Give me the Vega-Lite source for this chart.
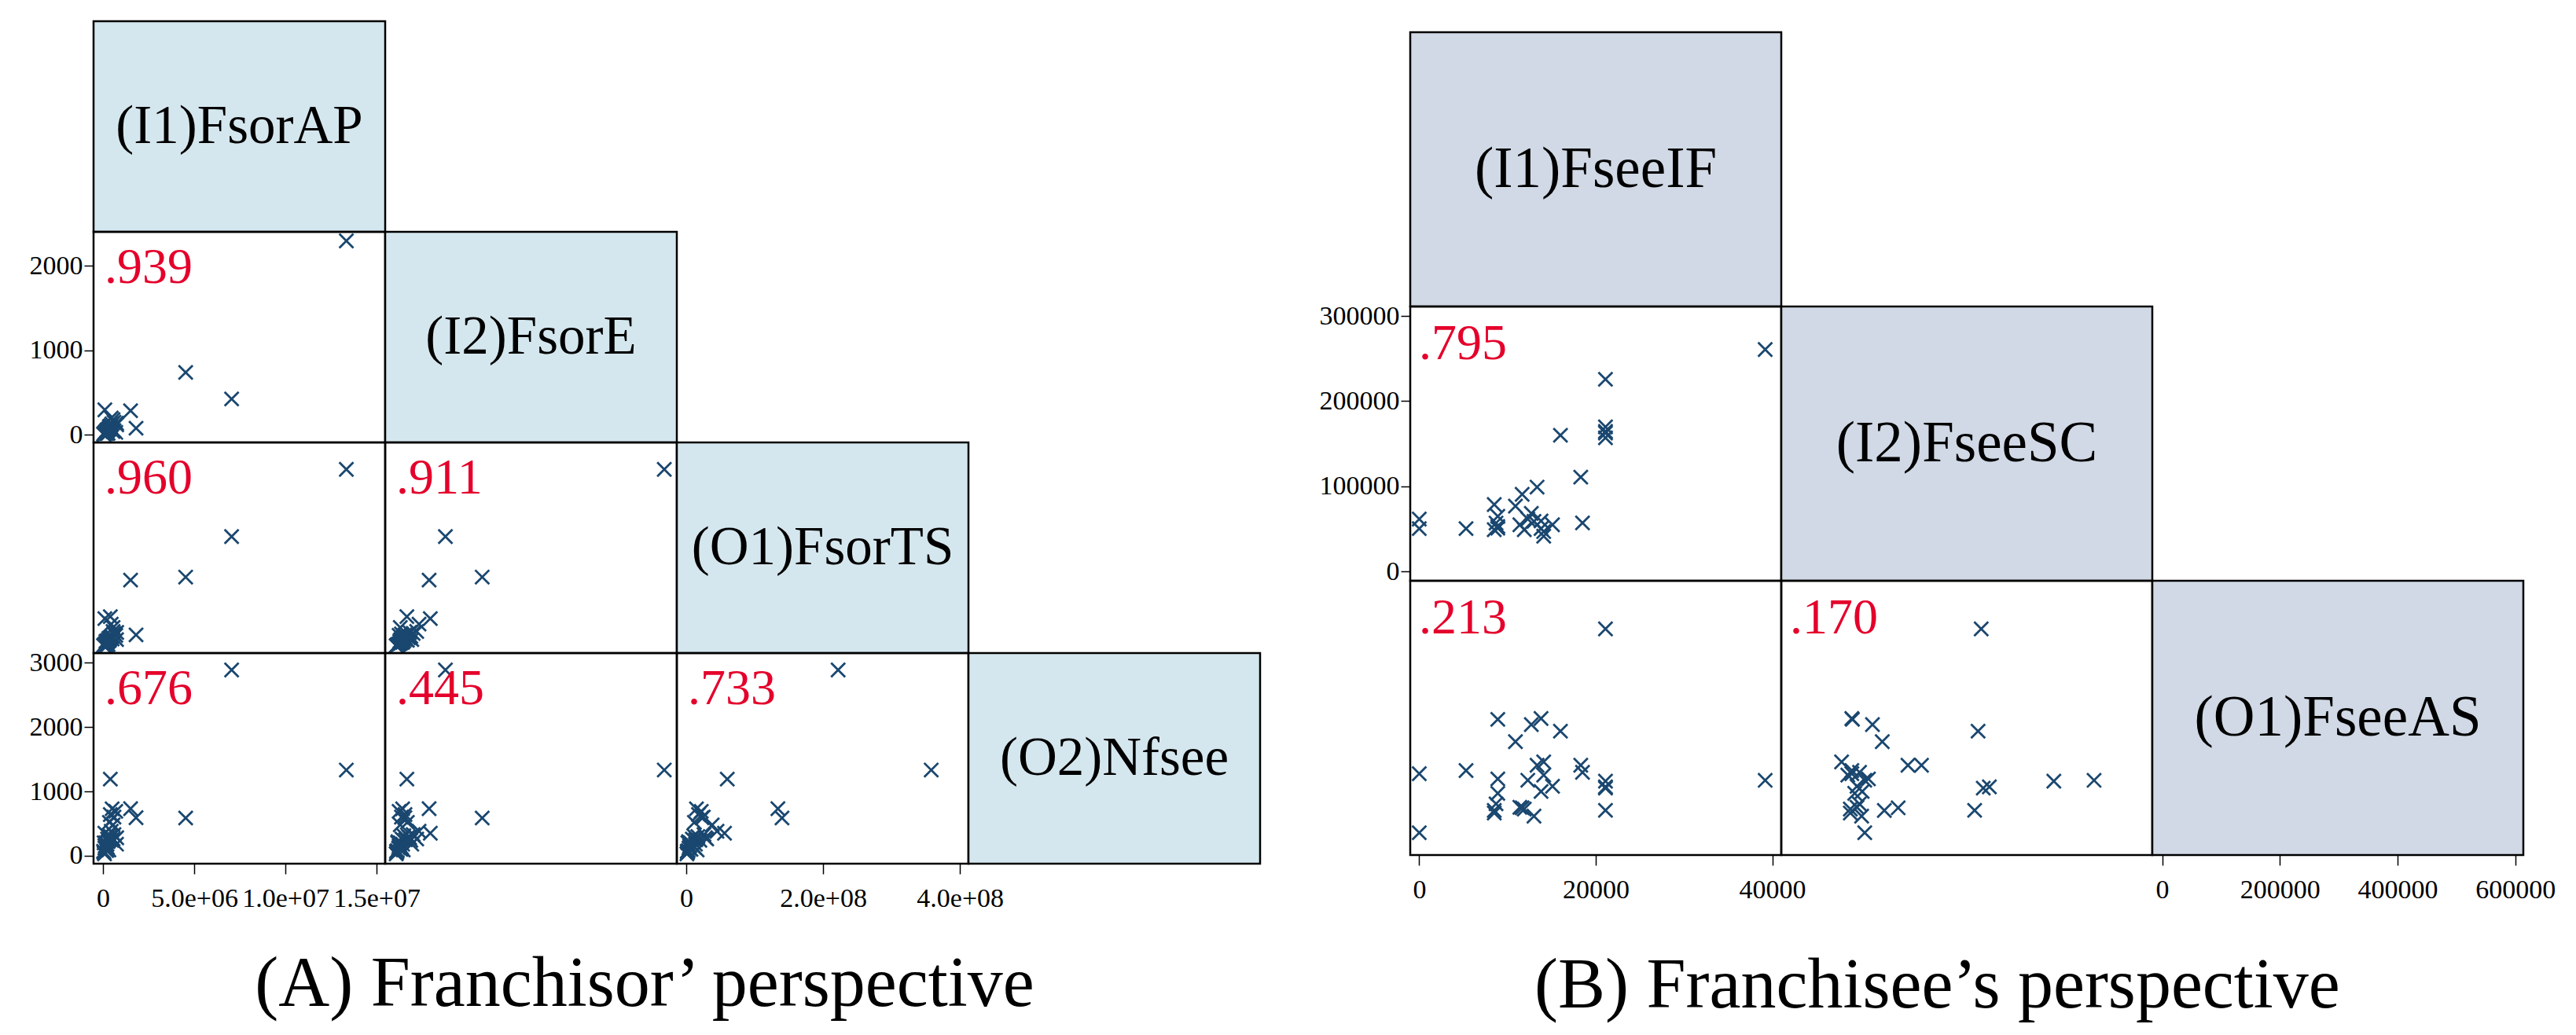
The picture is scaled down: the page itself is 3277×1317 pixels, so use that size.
{
"$schema":"https://vega.github.io/schema/vega-lite/v6.json",
"padding":{"left":35,"top":25,"right":5,"bottom":5},
"background":"white",
"config":{
 "view":{"stroke":"black","strokeWidth":2.5},
 "axis":{"grid":false,"domain":false,"tickColor":"black","tickWidth":1.5,"tickSize":12,"labelFont":"Liberation Serif","labelFontSize":34,"labelColor":"black","labelOverlap":false,"labelFlush":false},
 "axisX":{"labelPadding":14,"tickSize":13},
 "axisY":{"labelPadding":2},
 "title":{"font":"Liberation Serif","fontSize":90,"fontWeight":"normal","color":"black","orient":"bottom","anchor":"middle"}
},
"datasets":{
 "A":[
  {"AP":13340000,"E":2293,"TS":358000000,"N":1332},
  {"AP":7050000,"E":425,"TS":222000000,"N":2887},
  {"AP":4530000,"E":739,"TS":140000000,"N":587},
  {"AP":1510000,"E":286,"TS":134000000,"N":731},
  {"AP":1810000,"E":79,"TS":23000000,"N":591},
  {"AP":99000,"E":296,"TS":56000000,"N":350},
  {"AP":400000,"E":96,"TS":60000000,"N":1191},
  {"AP":740000,"E":138,"TS":13500000,"N":180},
  {"AP":500000,"E":60,"TS":15000000,"N":730},
  {"AP":700000,"E":30,"TS":22000000,"N":690},
  {"AP":400000,"E":80,"TS":18000000,"N":640},
  {"AP":600000,"E":50,"TS":25000000,"N":600},
  {"AP":350000,"E":100,"TS":12000000,"N":520},
  {"AP":550000,"E":40,"TS":38000000,"N":480},
  {"AP":750000,"E":120,"TS":28000000,"N":280},
  {"AP":50000,"E":10,"TS":2000000,"N":50},
  {"AP":100000,"E":25,"TS":4000000,"N":120},
  {"AP":150000,"E":40,"TS":6000000,"N":200},
  {"AP":200000,"E":15,"TS":3000000,"N":80},
  {"AP":250000,"E":55,"TS":9000000,"N":260},
  {"AP":300000,"E":70,"TS":11000000,"N":310},
  {"AP":80000,"E":5,"TS":1000000,"N":30},
  {"AP":120000,"E":30,"TS":5000000,"N":150},
  {"AP":180000,"E":45,"TS":7000000,"N":100},
  {"AP":220000,"E":60,"TS":8000000,"N":180},
  {"AP":280000,"E":20,"TS":3500000,"N":220},
  {"AP":350000,"E":85,"TS":14000000,"N":250},
  {"AP":420000,"E":110,"TS":17000000,"N":300},
  {"AP":30000,"E":8,"TS":1500000,"N":70},
  {"AP":160000,"E":35,"TS":10000000,"N":160},
  {"AP":240000,"E":50,"TS":12000000,"N":130},
  {"AP":480000,"E":130,"TS":20000000,"N":240},
  {"AP":600000,"E":150,"TS":26000000,"N":330},
  {"AP":60000,"E":18,"TS":2500000,"N":200},
  {"AP":320000,"E":65,"TS":16000000,"N":90},
  {"AP":550000,"E":180,"TS":30000000,"N":260},
  {"AP":450000,"E":200,"TS":45000000,"N":380}
 ],
 "B":[
  {"IF":39200,"SC":260600,"AS":155000},
  {"IF":21100,"SC":225700,"AS":153000},
  {"IF":21100,"SC":162700,"AS":503000},
  {"IF":21100,"SC":169800,"AS":140000},
  {"IF":21100,"SC":157000,"AS":86000},
  {"IF":21100,"SC":164500,"AS":137000},
  {"IF":16000,"SC":160000,"AS":268000},
  {"IF":18300,"SC":110900,"AS":189600},
  {"IF":18500,"SC":57200,"AS":173300},
  {"IF":13350,"SC":99200,"AS":189600},
  {"IF":11660,"SC":90700,"AS":91800},
  {"IF":10900,"SC":76900,"AS":243900},
  {"IF":8500,"SC":78700,"AS":85800},
  {"IF":12700,"SC":68400,"AS":283000},
  {"IF":8900,"SC":51000,"AS":295000},
  {"IF":13800,"SC":50500,"AS":297000},
  {"IF":14100,"SC":41600,"AS":197400},
  {"IF":0,"SC":50500,"AS":170300},
  {"IF":0,"SC":61700,"AS":34600},
  {"IF":5300,"SC":50500,"AS":177500},
  {"IF":15100,"SC":55000,"AS":141300},
  {"IF":13800,"SC":59500,"AS":129300},
  {"IF":8900,"SC":64900,"AS":158200},
  {"IF":12300,"SC":61700,"AS":155200},
  {"IF":8900,"SC":53000,"AS":125100},
  {"IF":8700,"SC":57000,"AS":100900},
  {"IF":8500,"SC":49200,"AS":79800},
  {"IF":11400,"SC":55000,"AS":93000},
  {"IF":11900,"SC":49200,"AS":89000},
  {"IF":13000,"SC":59000,"AS":72600},
  {"IF":14100,"SC":47000,"AS":167000}
 ]
},
"spacing":71,
"hconcat":[
 {"columns":4,"spacing":0,"bounds":"flush",
  "title":{"text":"(A) Franchisor’ perspective","orient":"bottom","offset":48},
  "concat":[
   {"width":371,"height":268,"view":{"fill":"#d5e7ee","stroke":"black","strokeWidth":2.5},"data":{"values":[{"t":"(I1)FsorAP"}]},"mark":{"type":"text","fontSize":69,"font":"Liberation Serif","color":"black"},"encoding":{"text":{"field":"t"}}},
   {"width":371,"height":268,"view":{"stroke":null},"data":{"values":[{"t":""}]},"mark":{"type":"text"},"encoding":{"text":{"field":"t"}}},
   {"width":371,"height":268,"view":{"stroke":null},"data":{"values":[{"t":""}]},"mark":{"type":"text"},"encoding":{"text":{"field":"t"}}},
   {"width":371,"height":268,"view":{"stroke":null},"data":{"values":[{"t":""}]},"mark":{"type":"text"},"encoding":{"text":{"field":"t"}}},

   {"width":371,"height":268,"layer":[
     {"data":{"name":"A"},"mark":{"type":"point","shape":"M-1,-1L1,1M-1,1L1,-1","filled":false,"strokeWidth":2.8,"size":320,"color":"#1a476f","opacity":1},
      "encoding":{"x":{"field":"AP","type":"quantitative","scale":{"domain":[-520000,15470000],"nice":false,"zero":false},"axis":null},
                  "y":{"field":"E","type":"quantitative","scale":{"domain":[-89,2400],"nice":false,"zero":false},"axis":{"values":[0,1000,2000],"format":"d","title":null}}}},
     {"data":{"values":[{"r":".939"}]},"mark":{"type":"text","align":"left","baseline":"alphabetic","dx":14,"dy":65,"fontSize":64,"font":"Liberation Serif","color":"#e4002b"},
      "encoding":{"x":{"datum":-520000,"type":"quantitative","scale":{"domain":[-520000,15470000],"nice":false,"zero":false},"axis":null},
                  "y":{"datum":2400,"type":"quantitative","scale":{"domain":[-89,2400],"nice":false,"zero":false},"axis":{"values":[0,1000,2000],"format":"d","title":null}},"text":{"field":"r"}}}
   ]},
   {"width":371,"height":268,"view":{"fill":"#d5e7ee","stroke":"black","strokeWidth":2.5},"data":{"values":[{"t":"(I2)FsorE"}]},"mark":{"type":"text","fontSize":69,"font":"Liberation Serif","color":"black"},"encoding":{"text":{"field":"t"}}},
   {"width":371,"height":268,"view":{"stroke":null},"data":{"values":[{"t":""}]},"mark":{"type":"text"},"encoding":{"text":{"field":"t"}}},
   {"width":371,"height":268,"view":{"stroke":null},"data":{"values":[{"t":""}]},"mark":{"type":"text"},"encoding":{"text":{"field":"t"}}},

   {"width":371,"height":268,"layer":[
     {"data":{"name":"A"},"mark":{"type":"point","shape":"M-1,-1L1,1M-1,1L1,-1","filled":false,"strokeWidth":2.8,"size":320,"color":"#1a476f","opacity":1},
      "encoding":{"x":{"field":"AP","type":"quantitative","scale":{"domain":[-520000,15470000],"nice":false,"zero":false},"axis":null},
                  "y":{"field":"TS","type":"quantitative","scale":{"domain":[-13700000,412400000],"nice":false,"zero":false},"axis":null}}},
     {"data":{"values":[{"r":".960"}]},"mark":{"type":"text","align":"left","baseline":"alphabetic","dx":14,"dy":65,"fontSize":64,"font":"Liberation Serif","color":"#e4002b"},
      "encoding":{"x":{"datum":-520000,"type":"quantitative","scale":{"domain":[-520000,15470000],"nice":false,"zero":false},"axis":null},
                  "y":{"datum":412400000,"type":"quantitative","scale":{"domain":[-13700000,412400000],"nice":false,"zero":false},"axis":null},"text":{"field":"r"}}}
   ]},
   {"width":371,"height":268,"layer":[
     {"data":{"name":"A"},"mark":{"type":"point","shape":"M-1,-1L1,1M-1,1L1,-1","filled":false,"strokeWidth":2.8,"size":320,"color":"#1a476f","opacity":1},
      "encoding":{"x":{"field":"E","type":"quantitative","scale":{"domain":[-89,2400],"nice":false,"zero":false},"axis":null},
                  "y":{"field":"TS","type":"quantitative","scale":{"domain":[-13700000,412400000],"nice":false,"zero":false},"axis":null}}},
     {"data":{"values":[{"r":".911"}]},"mark":{"type":"text","align":"left","baseline":"alphabetic","dx":14,"dy":65,"fontSize":64,"font":"Liberation Serif","color":"#e4002b"},
      "encoding":{"x":{"datum":-89,"type":"quantitative","scale":{"domain":[-89,2400],"nice":false,"zero":false},"axis":null},
                  "y":{"datum":412400000,"type":"quantitative","scale":{"domain":[-13700000,412400000],"nice":false,"zero":false},"axis":null},"text":{"field":"r"}}}
   ]},
   {"width":371,"height":268,"view":{"fill":"#d5e7ee","stroke":"black","strokeWidth":2.5},"data":{"values":[{"t":"(O1)FsorTS"}]},"mark":{"type":"text","fontSize":69,"font":"Liberation Serif","color":"black"},"encoding":{"text":{"field":"t"}}},
   {"width":371,"height":268,"view":{"stroke":null},"data":{"values":[{"t":""}]},"mark":{"type":"text"},"encoding":{"text":{"field":"t"}}},

   {"width":371,"height":268,"layer":[
     {"data":{"name":"A"},"mark":{"type":"point","shape":"M-1,-1L1,1M-1,1L1,-1","filled":false,"strokeWidth":2.8,"size":320,"color":"#1a476f","opacity":1},
      "encoding":{"x":{"field":"AP","type":"quantitative","scale":{"domain":[-520000,15470000],"nice":false,"zero":false},"axis":{"values":[0,5000000,10000000,15000000],"title":null,"labelExpr":"datum.value == 0 ? '0' : replace(format(datum.value, '.1e'), 'e+', 'e+0')"}},
                  "y":{"field":"N","type":"quantitative","scale":{"domain":[-123,3149],"nice":false,"zero":false},"axis":{"values":[0,1000,2000,3000],"format":"d","title":null}}}},
     {"data":{"values":[{"r":".676"}]},"mark":{"type":"text","align":"left","baseline":"alphabetic","dx":14,"dy":65,"fontSize":64,"font":"Liberation Serif","color":"#e4002b"},
      "encoding":{"x":{"datum":-520000,"type":"quantitative","scale":{"domain":[-520000,15470000],"nice":false,"zero":false},"axis":{"values":[0,5000000,10000000,15000000],"title":null,"labelExpr":"datum.value == 0 ? '0' : replace(format(datum.value, '.1e'), 'e+', 'e+0')"}},
                  "y":{"datum":3149,"type":"quantitative","scale":{"domain":[-123,3149],"nice":false,"zero":false},"axis":{"values":[0,1000,2000,3000],"format":"d","title":null}},"text":{"field":"r"}}}
   ]},
   {"width":371,"height":268,"layer":[
     {"data":{"name":"A"},"mark":{"type":"point","shape":"M-1,-1L1,1M-1,1L1,-1","filled":false,"strokeWidth":2.8,"size":320,"color":"#1a476f","opacity":1},
      "encoding":{"x":{"field":"E","type":"quantitative","scale":{"domain":[-89,2400],"nice":false,"zero":false},"axis":null},
                  "y":{"field":"N","type":"quantitative","scale":{"domain":[-123,3149],"nice":false,"zero":false},"axis":null}}},
     {"data":{"values":[{"r":".445"}]},"mark":{"type":"text","align":"left","baseline":"alphabetic","dx":14,"dy":65,"fontSize":64,"font":"Liberation Serif","color":"#e4002b"},
      "encoding":{"x":{"datum":-89,"type":"quantitative","scale":{"domain":[-89,2400],"nice":false,"zero":false},"axis":null},
                  "y":{"datum":3149,"type":"quantitative","scale":{"domain":[-123,3149],"nice":false,"zero":false},"axis":null},"text":{"field":"r"}}}
   ]},
   {"width":371,"height":268,"layer":[
     {"data":{"name":"A"},"mark":{"type":"point","shape":"M-1,-1L1,1M-1,1L1,-1","filled":false,"strokeWidth":2.8,"size":320,"color":"#1a476f","opacity":1},
      "encoding":{"x":{"field":"TS","type":"quantitative","scale":{"domain":[-13700000,412400000],"nice":false,"zero":false},"axis":{"values":[0,200000000,400000000],"title":null,"labelExpr":"datum.value == 0 ? '0' : replace(format(datum.value, '.1e'), 'e+', 'e+0')"}},
                  "y":{"field":"N","type":"quantitative","scale":{"domain":[-123,3149],"nice":false,"zero":false},"axis":null}}},
     {"data":{"values":[{"r":".733"}]},"mark":{"type":"text","align":"left","baseline":"alphabetic","dx":14,"dy":65,"fontSize":64,"font":"Liberation Serif","color":"#e4002b"},
      "encoding":{"x":{"datum":-13700000,"type":"quantitative","scale":{"domain":[-13700000,412400000],"nice":false,"zero":false},"axis":{"values":[0,200000000,400000000],"title":null,"labelExpr":"datum.value == 0 ? '0' : replace(format(datum.value, '.1e'), 'e+', 'e+0')"}},
                  "y":{"datum":3149,"type":"quantitative","scale":{"domain":[-123,3149],"nice":false,"zero":false},"axis":null},"text":{"field":"r"}}}
   ]},
   {"width":371,"height":268,"view":{"fill":"#d5e7ee","stroke":"black","strokeWidth":2.5},"data":{"values":[{"t":"(O2)Nfsee"}]},"mark":{"type":"text","fontSize":69,"font":"Liberation Serif","color":"black"},"encoding":{"text":{"field":"t"}}}
  ]
 },
 {"spacing":0,"vconcat":[
  {"width":10,"height":12,"view":{"stroke":null,"fill":"white"},"data":{"values":[{"t":""}]},"mark":{"type":"text"},"encoding":{"text":{"field":"t"}}},
  {"columns":3,"spacing":0,"bounds":"flush",
   "title":{"text":"(B) Franchisee’s perspective","orient":"bottom","offset":61},
   "concat":[
    {"width":472,"height":349,"view":{"fill":"#d0d9e5","stroke":"black","strokeWidth":2.5},"data":{"values":[{"t":"(I1)FseeIF"}]},"mark":{"type":"text","fontSize":73,"font":"Liberation Serif","color":"black"},"encoding":{"text":{"field":"t"}}},
    {"width":472,"height":349,"view":{"stroke":null},"data":{"values":[{"t":""}]},"mark":{"type":"text"},"encoding":{"text":{"field":"t"}}},
    {"width":472,"height":349,"view":{"stroke":null},"data":{"values":[{"t":""}]},"mark":{"type":"text"},"encoding":{"text":{"field":"t"}}},

    {"width":472,"height":349,"layer":[
      {"data":{"name":"B"},"mark":{"type":"point","shape":"M-1,-1L1,1M-1,1L1,-1","filled":false,"strokeWidth":2.8,"size":320,"color":"#1a476f","opacity":1},
       "encoding":{"x":{"field":"IF","type":"quantitative","scale":{"domain":[-1023,41023],"nice":false,"zero":false},"axis":null},
                   "y":{"field":"SC","type":"quantitative","scale":{"domain":[-10700,311100],"nice":false,"zero":false},"axis":{"values":[0,100000,200000,300000],"format":"d","title":null}}}},
      {"data":{"values":[{"r":".795"}]},"mark":{"type":"text","align":"left","baseline":"alphabetic","dx":11,"dy":67,"fontSize":64,"font":"Liberation Serif","color":"#e4002b"},
       "encoding":{"x":{"datum":-1023,"type":"quantitative","scale":{"domain":[-1023,41023],"nice":false,"zero":false},"axis":null},
                   "y":{"datum":311100,"type":"quantitative","scale":{"domain":[-10700,311100],"nice":false,"zero":false},"axis":{"values":[0,100000,200000,300000],"format":"d","title":null}},"text":{"field":"r"}}}
    ]},
    {"width":472,"height":349,"view":{"fill":"#d0d9e5","stroke":"black","strokeWidth":2.5},"data":{"values":[{"t":"(I2)FseeSC"}]},"mark":{"type":"text","fontSize":73,"font":"Liberation Serif","color":"black"},"encoding":{"text":{"field":"t"}}},
    {"width":472,"height":349,"view":{"stroke":null},"data":{"values":[{"t":""}]},"mark":{"type":"text"},"encoding":{"text":{"field":"t"}}},

    {"width":472,"height":349,"layer":[
      {"data":{"name":"B"},"mark":{"type":"point","shape":"M-1,-1L1,1M-1,1L1,-1","filled":false,"strokeWidth":2.8,"size":320,"color":"#1a476f","opacity":1},
       "encoding":{"x":{"field":"IF","type":"quantitative","scale":{"domain":[-1023,41023],"nice":false,"zero":false},"axis":{"values":[0,20000,40000],"format":"d","title":null}},
                   "y":{"field":"AS","type":"quantitative","scale":{"domain":[-16700,613600],"nice":false,"zero":false},"axis":null}}},
      {"data":{"values":[{"r":".213"}]},"mark":{"type":"text","align":"left","baseline":"alphabetic","dx":11,"dy":67,"fontSize":64,"font":"Liberation Serif","color":"#e4002b"},
       "encoding":{"x":{"datum":-1023,"type":"quantitative","scale":{"domain":[-1023,41023],"nice":false,"zero":false},"axis":{"values":[0,20000,40000],"format":"d","title":null}},
                   "y":{"datum":613600,"type":"quantitative","scale":{"domain":[-16700,613600],"nice":false,"zero":false},"axis":null},"text":{"field":"r"}}}
    ]},
    {"width":472,"height":349,"layer":[
      {"data":{"name":"B"},"mark":{"type":"point","shape":"M-1,-1L1,1M-1,1L1,-1","filled":false,"strokeWidth":2.8,"size":320,"color":"#1a476f","opacity":1},
       "encoding":{"x":{"field":"SC","type":"quantitative","scale":{"domain":[-10700,311100],"nice":false,"zero":false},"axis":null},
                   "y":{"field":"AS","type":"quantitative","scale":{"domain":[-16700,613600],"nice":false,"zero":false},"axis":null}}},
      {"data":{"values":[{"r":".170"}]},"mark":{"type":"text","align":"left","baseline":"alphabetic","dx":11,"dy":67,"fontSize":64,"font":"Liberation Serif","color":"#e4002b"},
       "encoding":{"x":{"datum":-10700,"type":"quantitative","scale":{"domain":[-10700,311100],"nice":false,"zero":false},"axis":null},
                   "y":{"datum":613600,"type":"quantitative","scale":{"domain":[-16700,613600],"nice":false,"zero":false},"axis":null},"text":{"field":"r"}}}
    ]},
    {"width":472,"height":349,"view":{"fill":"#d0d9e5","stroke":"black","strokeWidth":2.5},"data":{"values":[{"t":"(O1)FseeAS"}]},"mark":{"type":"text","fontSize":73,"font":"Liberation Serif","color":"black"},
     "encoding":{"x":{"datum":298450,"type":"quantitative","scale":{"domain":[-16700,613600],"nice":false,"zero":false},"axis":{"values":[0,200000,400000,600000],"format":"d","title":null}},"text":{"field":"t"}}}
   ]
  }
 ]}
]
}
